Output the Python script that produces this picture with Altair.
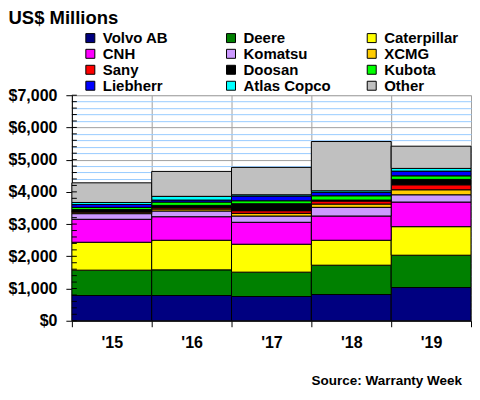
import altair as alt
import pandas as pd

years = ["'15", "'16", "'17", "'18", "'19"]
companies = ["Volvo AB", "Deere", "Caterpillar", "CNH", "Komatsu", "XCMG",
             "Sany", "Doosan", "Kubota", "Liebherr", "Atlas Copco", "Other"]
colors = ["#000080", "#008000", "#FFFF00", "#FF00FF", "#CC99FF", "#FFCC00",
          "#FF0000", "#000000", "#00FF00", "#0000FF", "#00FFFF", "#C0C0C0"]

volvo = [783, 783, 752, 814, 1031]
deere = [787, 796, 756, 910, 1003]
caterpillar = [866, 919, 867, 774, 886]
cnh = [713, 731, 681, 753, 764]
komatsu = [175, 177, 194, 269, 226]
xcmg = [45, 61, 84, 102, 155]
sany = [20, 41, 81, 93, 155]
doosan = [60, 72, 217, 31, 167]
kubota = [70, 104, 92, 133, 111]
liebherr = [90, 62, 146, 106, 146]
atlas_copco = [62, 115, 40, 49, 84]
other = [610, 774, 849, 1529, 690]

y_ticks = list(range(0, 7001, 200))

series = [volvo, deere, caterpillar, cnh, komatsu, xcmg, sany, doosan,
          kubota, liebherr, atlas_copco, other]
rows = []
for idx, (name, vals) in enumerate(zip(companies, series)):
    for yr, v in zip(years, vals):
        rows.append({"year": yr, "company": name, "value": v, "idx": idx})
df = pd.DataFrame(rows)
ticks_df = pd.DataFrame({"v": y_ticks})

# legend fills column-major; reorder so it reads row-major like the reference
ncol, nrow = 3, 4
legend_order = [companies[r * ncol + c] for c in range(ncol) for r in range(nrow)]
legend_colors = [colors[companies.index(n)] for n in legend_order]

FONT = "Liberation Sans"
W, H = 400, 226

yscale = alt.Scale(domain=[0, 7000], nice=False, zero=True)
y_axis = alt.Axis(values=y_ticks,
                  title="US$ Millions", titleAngle=0, titleAlign="left",
                  titleBaseline="top", titleX=-64, titleY=-87,
                  titleFont=FONT, titleFontSize=18.5, titleFontWeight="bold",
                  titleColor="black",
                  labelExpr="datum.value % 1000 === 0 ? '$' + format(datum.value, ',') : ''",
                  labelFont=FONT, labelFontSize=16, labelFontWeight="bold",
                  labelColor="black", labelPadding=9,
                  grid=True,
                  gridColor={"condition": {"test": "datum.value % 1000 === 0", "value": "#a0a0a0"},
                             "value": "#99CCFF"},
                  gridWidth=1,
                  tickOpacity={"condition": {"test": "datum.value % 1000 === 0", "value": 1},
                               "value": 0},
                  tickColor="black", tickSize=6,
                  domainColor="black")

bars = alt.Chart(df).mark_bar(stroke="black", strokeWidth=1).encode(
    x=alt.X("year:N", sort=years,
            scale=alt.Scale(paddingInner=0, paddingOuter=0),
            axis=alt.Axis(title=None, labelAngle=0, tickBand="extent",
                          grid=True, gridColor="#a0a0a0", gridWidth=1,
                          domainColor="black", tickColor="black", tickSize=6,
                          labelFont=FONT, labelFontSize=16, labelFontWeight="bold",
                          labelColor="black", labelPadding=8)),
    y=alt.Y("value:Q", stack="zero", scale=yscale, axis=y_axis),
    color=alt.Color("company:N", sort=legend_order,
                    scale=alt.Scale(domain=legend_order, range=legend_colors),
                    legend=alt.Legend(title=None, orient="none", legendX=11, legendY=-65,
                                      columns=ncol, gridAlign="all", columnPadding=33,
                                      rowPadding=0, padding=0,
                                      symbolType="square", symbolSize=81,
                                      symbolStrokeColor="black", symbolStrokeWidth=1,
                                      symbolOpacity=1,
                                      labelFont=FONT, labelFontSize=15,
                                      labelFontWeight="bold", labelColor="black",
                                      labelOffset=5)),
    order=alt.Order("idx:Q", sort="ascending"),
)

minor_ticks = alt.Chart(ticks_df).mark_rule(color="black", strokeWidth=1).encode(
    y=alt.Y("v:Q", scale=yscale, axis=y_axis),
    x=alt.value(0),
    x2=alt.value(5),
)

chart = alt.layer(bars, minor_ticks).properties(
    width=W, height=H, padding=0,
    title=alt.TitleParams(text="Source: Warranty Week", orient="bottom", anchor="end",
                          frame="group", dx=-9, offset=23, font=FONT, fontSize=13.5,
                          fontWeight="bold", color="black"),
).configure_view(stroke=None).configure(background="white")

chart.save("out.html", embed_options={"renderer": "svg", "actions": False})
